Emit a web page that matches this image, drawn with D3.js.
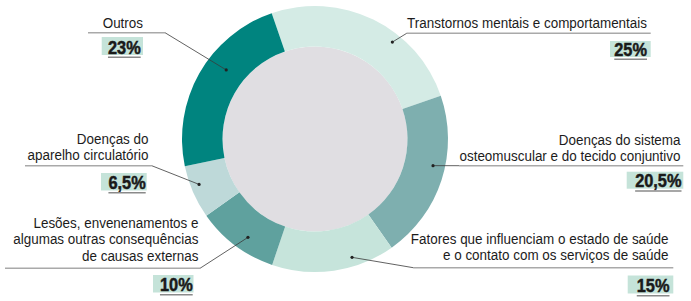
<!DOCTYPE html>
<html>
<head>
<meta charset="utf-8">
<script src="https://cdn.jsdelivr.net/npm/d3@7"></script>
<style>
  body { margin: 0; background: #fff; }
  svg { display: block; }
  .lbl { font-family: "Liberation Sans", Arial, sans-serif; font-size: 15.5px; fill: #1c1c1c; }
  .pct { font-family: "Liberation Sans", Arial, sans-serif; font-size: 18.5px; font-weight: bold; fill: #1a1a1a; stroke: #1a1a1a; stroke-width: 0.5px; }
</style>
</head>
<body>
<svg id="chart"></svg>
<script>
// data, clockwise from the top
var categories = [
  ["Transtornos mentais e comportamentais"],
  ["Doenças do sistema", "osteomuscular e do tecido conjuntivo"],
  ["Fatores que influenciam o estado de saúde", "e o contato com os serviços de saúde"],
  ["Lesões, envenenamentos e", "algumas outras consequências", "de causas externas"],
  ["Doenças do", "aparelho circulatório"],
  ["Outros"]
];
var values = [25, 20.5, 15, 10, 6.5, 23];
var valueLabels = ["25%", "20,5%", "15%", "10%", "6,5%", "23%"];
var colors = ["#d4ebe5", "#7eafaf", "#c6e4db", "#5fa19e", "#bed9d9", "#00847f"];

var width = 691;
var height = 301;
var cx = 315, cy = 139;
var outerR = 133, innerR = 92.5;
var lineH = 16.5;

// label placement (x of text end, baseline of last line, underline, value box, dot position inside the slice)
var layout = [
  {tx: 647, ty: 27.7, ul: [406.7, 650.7, 33.3], box: [610, 41, 40.7, 16], px: 647, at: 0.64, r: 124},
  {tx: 680.5, ty: 161, ul: [459, 683.3, 165.7], box: [626.7, 171.7, 56.6, 17], px: 681.5, at: 0.43, r: 121},
  {tx: 668.5, ty: 260, ul: [413.3, 673.3, 267.7], box: [627.7, 275.5, 45.6, 18], px: 669.5, at: 0.33, r: 124},
  {tx: 198.5, ty: 260.5, ul: [5, 200, 268.3], box: [153, 275, 40.5, 17.5], px: 192.7, at: 0.43, r: 119},
  {tx: 148.5, ty: 160, ul: [25, 151.7, 165.7], box: [101, 173, 45.7, 17.5], px: 145.7, at: 0.59, r: 124.5},
  {tx: 143, ty: 27.7, ul: [88, 165, 32.7], box: [101.7, 37, 41.3, 18], px: 140.7, at: 0.6, r: 112.5}
];

var svg = d3.select("#chart")
            .attr("width", width)
            .attr("height", height);

// condensed look: squeeze the regular face so the first label is 240px wide
var probe = svg.append("text").attr("class", "lbl").text(categories[0][0]);
var sx = 240 / probe.node().getComputedTextLength();
probe.remove();

var start = -19 * Math.PI / 180;
var pie = d3.pie()
            .sort(null)
            .startAngle(start)
            .endAngle(start + 2 * Math.PI)
            .value(function(d) { return d; });

var arcs = pie(values);

var arc = d3.arc()
            .innerRadius(innerR)
            .outerRadius(outerR);

var g = svg.append("g")
           .attr("transform", "translate(" + cx + "," + cy + ")");

g.append("circle")
 .attr("r", innerR)
 .attr("fill", "#e0dee2");

g.selectAll("path")
 .data(arcs)
 .enter()
 .append("path")
 .attr("d", arc)
 .attr("fill", function(d, i) { return colors[i]; });

/*labels*/
arcs.forEach(function(d, i)
{
  var L = layout[i];
  var a = d.startAngle + (d.endAngle - d.startAngle) * L.at;
  var dx = cx + L.r * Math.sin(a);
  var dy = cy - L.r * Math.cos(a);
  var leftSide = L.ul[0] < cx;
  var joinX = leftSide ? L.ul[1] : L.ul[0];

  // underline under the category text
  svg.append("line")
     .attr("x1", L.ul[0]).attr("x2", L.ul[1])
     .attr("y1", L.ul[2]).attr("y2", L.ul[2])
     .attr("stroke", "#a9a9a9")
     .attr("stroke-width", 1.6);

  // leader to the slice
  svg.append("line")
     .attr("x1", joinX).attr("y1", L.ul[2])
     .attr("x2", dx).attr("y2", dy)
     .attr("stroke", "#3a3a3a")
     .attr("stroke-width", 0.8);

  svg.append("circle")
     .attr("cx", dx).attr("cy", dy)
     .attr("r", 1.6)
     .attr("fill", "#222");

  var lines = categories[i];
  svg.selectAll(null)
     .data(lines)
     .enter()
     .append("text")
     .attr("class", "lbl")
     .attr("transform", function(t, j)
     {
       return "translate(" + L.tx + "," + (L.ty - (lines.length - 1 - j) * lineH) + ") scale(" + sx + ",1)";
     })
     .attr("text-anchor", "end")
     .text(function(t) { return t; });

  svg.append("rect")
     .attr("x", L.box[0]).attr("y", L.box[1])
     .attr("width", L.box[2]).attr("height", L.box[3])
     .attr("fill", "#c5e3d9");

  var pt = svg.append("text")
              .attr("class", "pct")
              .attr("transform", "translate(" + L.px + "," + (L.box[1] + L.box[3] - 1.5) + ") scale(" + (sx * 1.02) + ",1)")
              .attr("text-anchor", "end")
              .text(valueLabels[i]);

  var w = pt.node().getComputedTextLength() * sx * 1.02;
  svg.append("line")
     .attr("x1", L.px - w).attr("x2", L.px)
     .attr("y1", L.box[1] + L.box[3] + 2.2).attr("y2", L.box[1] + L.box[3] + 2.2)
     .attr("stroke", "#8a8a8a")
     .attr("stroke-width", 1.5);
});
</script>
</body>
</html>
